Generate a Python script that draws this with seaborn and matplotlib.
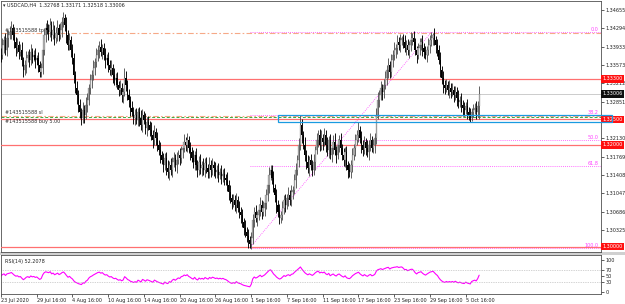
import numpy as np
import pandas as pd
import matplotlib
matplotlib.use("Agg")
import matplotlib.pyplot as plt
import matplotlib.transforms as mtrans
from matplotlib.patches import Rectangle
import seaborn as sns

# ---------------- data (prices in pips above 1.30000) ----------------
price_base = 1.30000
first_open_pips = 380
close_pips = [
    377, 396, 406, 387, 410, 416, 422, 430, 416, 402,
    391, 396, 383, 387, 367, 347, 357, 371, 377, 367,
    383, 373, 377, 367, 371, 357, 343, 351, 387, 416,
    430, 426, 422, 436, 416, 426, 410, 420, 430, 416,
    426, 442, 450, 436, 416, 396, 406, 387, 371, 337,
    312, 298, 278, 265, 253, 269, 259, 278, 288, 312,
    328, 337, 351, 363, 377, 387, 393, 383, 391, 377,
    367, 371, 357, 347, 351, 337, 328, 331, 318, 308,
    312, 298, 304, 331, 318, 298, 288, 272, 265, 253,
    259, 249, 265, 253, 239, 259, 249, 233, 245, 239,
    229, 219, 209, 225, 213, 200, 190, 180, 170, 160,
    174, 154, 146, 160, 150, 166, 174, 160, 170, 180,
    174, 190, 194, 206, 200, 209, 194, 186, 174, 166,
    180, 160, 150, 166, 154, 160, 150, 164, 154, 146,
    160, 150, 160, 154, 146, 150, 141, 146, 139, 143,
    135, 131, 121, 107, 95, 87, 91, 82, 91, 76,
    68, 62, 48, 36, 28, 21, 13, 5, 17, 52,
    68, 56, 62, 72, 82, 68, 76, 85, 101, 121,
    141, 150, 135, 115, 101, 82, 68, 56, 62, 76,
    91, 82, 95, 101, 91, 107, 111, 131, 150, 170,
    200, 239, 219, 200, 180, 166, 154, 170, 160, 150,
    166, 190, 209, 219, 200, 213, 206, 219, 200, 190,
    209, 180, 194, 206, 190, 180, 200, 209, 194, 180,
    170, 186, 160, 150, 146, 160, 180, 194, 209, 219,
    229, 213, 200, 190, 206, 194, 186, 200, 209, 194,
    200, 213, 259, 288, 298, 312, 304, 318, 331, 347,
    357, 343, 367, 377, 387, 391, 402, 396, 406, 410,
    402, 391, 396, 387, 396, 406, 410, 402, 387, 377,
    391, 396, 402, 391, 383, 377, 387, 396, 406, 410,
    416, 406, 396, 387, 367, 347, 331, 318, 312, 318,
    308, 312, 304, 308, 298, 304, 292, 284, 288, 278,
    272, 269, 276, 265, 259, 253, 265, 269, 272, 265,
    277, 301,
]
# wick lengths beyond the body, in units of wick_unit (price)
wick_unit = 0.00017
up_wick = [
    6, 9, 5, 8, 10, 6, 7, 8, 5, 9,
    6, 8, 5, 7, 9, 4, 6, 8, 5, 7,
    9, 5, 6, 8, 4, 7, 5, 6, 10, 8,
    6, 9, 7, 8, 5, 10, 6, 7, 9, 5,
    8, 6, 7, 5, 9, 6, 8, 5, 7, 6,
    5, 8, 6, 7, 5, 9, 6, 10, 8, 5,
    7, 6, 9, 5, 8, 6, 7, 9, 5, 6,
    8, 5, 7, 6, 9, 5, 8, 6, 7, 5,
    9, 6, 5, 12, 8, 6, 7, 5, 9, 6,
    7, 8, 5, 6, 9, 7, 5, 8, 6, 7,
    5, 9, 6, 8, 5, 7, 6, 9, 5, 8,
    6, 7, 9, 5, 8, 6, 7, 5, 9, 6,
    8, 5, 7, 9, 6, 8, 5, 7, 6, 9,
    5, 8, 6, 7, 9, 5, 8, 6, 7, 5,
    9, 6, 8, 5, 7, 6, 9, 5, 8, 6,
    7, 5, 9, 6, 8, 5, 7, 6, 9, 5,
    8, 6, 7, 5, 9, 6, 8, 5, 7, 7,
    6, 8, 5, 7, 9, 6, 8, 5, 7, 6,
    9, 6, 6, 8, 5, 7, 6, 9, 5, 8,
    6, 7, 5, 9, 6, 8, 5, 7, 9, 6,
    8, 12, 7, 5, 9, 6, 8, 5, 7, 6,
    9, 5, 8, 6, 7, 10, 5, 8, 6, 9,
    5, 7, 6, 8, 10, 5, 7, 6, 9, 5,
    8, 6, 7, 5, 9, 6, 8, 5, 7, 6,
    9, 5, 8, 6, 7, 5, 9, 6, 8, 5,
    7, 6, 8, 9, 6, 8, 5, 7, 9, 6,
    8, 5, 7, 6, 9, 5, 8, 6, 7, 3,
    5, 8, 6, 7, 5, 9, 6, 8, 5, 4,
    6, 9, 5, 8, 6, 7, 5, 9, 6, 7,
    3, 8, 5, 7, 6, 9, 5, 8, 6, 7,
    5, 9, 6, 8, 5, 7, 6, 9, 5, 8,
    6, 7, 5, 9, 6, 8, 5, 7, 6, 9,
    5, 9,
]
down_wick = [
    8, 5, 9, 6, 7, 10, 5, 8, 6, 7,
    9, 6, 8, 5, 7, 8, 6, 9, 5, 8,
    6, 7, 5, 9, 6, 8, 6, 5, 7, 6,
    8, 5, 9, 6, 7, 5, 8, 6, 9, 7,
    5, 8, 6, 7, 9, 5, 6, 8, 7, 9,
    6, 10, 8, 7, 8, 6, 9, 5, 8, 6,
    7, 9, 5, 8, 6, 7, 9, 5, 8, 6,
    9, 6, 8, 5, 7, 9, 6, 8, 5, 7,
    6, 8, 9, 5, 7, 6, 8, 9, 5, 7,
    8, 5, 7, 9, 6, 8, 5, 7, 9, 6,
    7, 6, 9, 5, 8, 7, 6, 9, 5, 8,
    6, 8, 7, 9, 5, 8, 6, 7, 9, 5,
    8, 6, 9, 5, 7, 8, 6, 9, 5, 7,
    9, 5, 8, 6, 7, 9, 5, 8, 6, 7,
    6, 8, 5, 9, 7, 6, 8, 5, 9, 7,
    8, 6, 7, 9, 5, 8, 6, 7, 9, 5,
    7, 9, 6, 8, 5, 7, 9, 5, 6, 7,
    8, 5, 9, 6, 7, 8, 5, 9, 6, 7,
    9, 6, 7, 5, 8, 9, 6, 7, 6, 6,
    7, 8, 5, 9, 6, 7, 8, 5, 9, 6,
    8, 6, 9, 5, 7, 8, 6, 9, 5, 7,
    6, 9, 5, 8, 7, 6, 9, 5, 8, 7,
    9, 5, 8, 7, 6, 9, 5, 8, 7, 6,
    7, 8, 6, 9, 5, 7, 8, 6, 9, 5,
    8, 6, 9, 7, 5, 8, 6, 9, 7, 5,
    6, 9, 7, 5, 8, 6, 9, 7, 5, 8,
    9, 7, 5, 8, 6, 9, 7, 5, 8, 6,
    7, 5, 8, 6, 9, 7, 5, 8, 6, 9,
    5, 8, 6, 9, 7, 5, 8, 6, 9, 7,
    8, 6, 9, 7, 5, 8, 6, 9, 7, 5,
    6, 9, 7, 5, 8, 6, 9, 7, 5, 8,
    9, 7, 5, 8, 6, 5, 4, 6, 5, 8,
    6, 15,
]

title_text = "USDCAD,H4  1.32768 1.33171 1.32518 1.33006"
rsi_label = "RSI(14) 52.2078"
date_labels = ["23 Jul 2020", "29 Jul 16:00", "4 Aug 16:00", "10 Aug 16:00",
               "14 Aug 16:00", "20 Aug 16:00", "26 Aug 16:00", "1 Sep 16:00",
               "7 Sep 16:00", "11 Sep 16:00", "17 Sep 16:00", "23 Sep 16:00",
               "29 Sep 16:00", "5 Oct 16:00"]
date_label_bars = [0, 24, 48, 72, 96, 120, 144, 168, 192, 216, 240, 264, 288, 312]
price_ticks = [1.34655, 1.34294, 1.33933, 1.33573, 1.33212, 1.32851,
               1.32130, 1.31769, 1.31408, 1.31047, 1.30686, 1.30325]
red_levels = [1.33300, 1.32500, 1.32000, 1.30000]
bid_price = 1.33006
tp_price = 1.34200
sl_price = 1.32570
buy_price = 1.32540
order_tp_text = "#143515588 tp"
order_sl_text = "#143515588 sl"
order_buy_text = "#143515588 buy 5.00"
zone_low, zone_high = 1.32450, 1.32590
zone_start_bar = 186
fib_low_bar, fib_low_price = 167, 1.29970
fib_high_bar, fib_high_price = 289, 1.34220
fib_levels = [0.0, 38.2, 50.0, 61.8, 100.0]
rsi_ticks = [100, 70, 50, 30, 0]
rsi_levels = [70, 30]
rsi_period = 14
rsi_seed_move = 0.0008   # assumed average up/down move before the first bar

# ---------------- figure ----------------
sns.set_theme(style="white")
plt.rcParams["font.family"] = ["DejaVu Sans"]
FS = 3.5
W, H = 625, 304
fig = plt.figure(figsize=(W / 100, H / 100), dpi=100)
fig.patch.set_facecolor("white")


def fx(px):
    return px / W


def fy(py):
    return 1 - py / H


ax = fig.add_axes([fx(1), fy(252), 600 / W, 251 / H])
rax = fig.add_axes([fx(1), fy(294), 600 / W, 39 / H])
for a in (ax, rax):
    a.set_facecolor("white")
    for s in a.spines.values():
        s.set_color("#505050")
        s.set_linewidth(0.6)

fig.add_artist(Rectangle((0, fy(255)), 1, 3 / H, transform=fig.transFigure,
                         facecolor="#d0d0d0", edgecolor="none", zorder=0))

closes = price_base + np.array(close_pips) / 1e4
opens = np.concatenate([[price_base + first_open_pips / 1e4], closes[:-1]])
highs = np.maximum(opens, closes) + np.array(up_wick) * wick_unit
lows = np.minimum(opens, closes) - np.array(down_wick) * wick_unit
df = pd.DataFrame(dict(bar=np.arange(len(closes)), open=opens, high=highs,
                       low=lows, close=closes))
bull = df["close"] >= df["open"]
bear = ~bull

ax.vlines(df["bar"][bull], df["low"][bull], df["high"][bull], color="#555555", lw=0.65, zorder=3)
ax.vlines(df["bar"][bear], df["low"][bear], df["high"][bear], color="#000000", lw=0.65, zorder=3)
body = (df["close"] - df["open"]).abs().clip(lower=0.00005)
ax.bar(df["bar"][bull], body[bull], bottom=df["open"][bull], width=0.8,
       color="#b0b0b0", edgecolor="#555555", linewidth=0.15, zorder=3)
ax.bar(df["bar"][bear], body[bear], bottom=df["close"][bear], width=0.8,
       color="#000000", linewidth=0, zorder=3)

xmin, xmax = 0.13, 402.8
ax.set_xlim(xmin, xmax)
ax.set_ylim(1.29892, 1.34832)

red_c = "#ff7070"
for lv in red_levels:
    ax.axhline(lv, color=red_c, lw=0.9, zorder=2.6)
ax.axhline(bid_price, color="#c4c4c4", lw=0.6, zorder=1)
ax.axhline(tp_price, color="#f6a987", lw=0.8, ls=(0, (5, 2, 1.5, 2)), zorder=2)
ax.axhline(sl_price, color="#f6a987", lw=0.8, ls=(0, (5, 2, 1.5, 2)), zorder=2)
ax.axhline(buy_price, color="#3caa3c", lw=0.7, ls=(0, (3, 2)), zorder=2)

blend = mtrans.blended_transform_factory(ax.transAxes, ax.transData)

fib_prices = [fib_high_price - (fib_high_price - fib_low_price) * f / 100 for f in fib_levels]
ax.hlines(fib_prices, fib_low_bar, xmax, color="#ff40ff", lw=0.6, ls=(0, (1, 1.5)), zorder=2)
ax.plot([fib_low_bar, fib_high_bar], [fib_low_price, fib_high_price], color="#ff40ff",
        lw=0.6, ls=(0, (1, 1.5)), zorder=2)
for f, p in zip(fib_levels, fib_prices):
    ax.text((598 - 1) / 600, p, f"{f:.1f}", transform=blend,
            ha="right", va="bottom", fontsize=FS, color="#ff40ff", zorder=4)

ax.add_patch(Rectangle((zone_start_bar, zone_low), 410.2 - zone_start_bar, zone_high - zone_low,
                       fill=False, edgecolor="#1a9ae0", lw=0.9, clip_on=False, zorder=8))

ax.text(4 / 600, tp_price, order_tp_text, transform=blend, fontsize=FS, color="#303030",
        va="bottom", zorder=5)
ax.text(4 / 600, sl_price + 0.0002, order_sl_text, transform=blend, fontsize=FS, color="#303030",
        va="bottom", zorder=5)
ax.text(4 / 600, buy_price - 0.0004, order_buy_text, transform=blend, fontsize=FS, color="#303030",
        va="top", zorder=5)

ax.text(2 / 600, (252 - 5) / 251, "\u25BE " + title_text, transform=ax.transAxes,
        fontsize=FS, color="#202020", va="center", ha="left", zorder=5)

ax.yaxis.tick_right()
ax.set_yticks(price_ticks)
ax.set_yticklabels([f"{p:.5f}" for p in price_ticks])
ax.tick_params(axis="y", length=2, width=0.5, pad=1.5, labelsize=FS, colors="#202020",
               right=True, left=False)
ax.set_xticks([])
ax.grid(False)

for lv in red_levels:
    ax.text(1.0025, lv, f"{lv:.5f}", transform=blend, fontsize=FS, color="white", va="center",
            ha="left", bbox=dict(boxstyle="square,pad=0.3", fc="#ff1010", ec="none"),
            zorder=7, clip_on=False)
ax.text(1.0025, bid_price, f"{bid_price:.5f}", transform=blend, fontsize=FS, color="white",
        va="center", ha="left", bbox=dict(boxstyle="square,pad=0.3", fc="#101010", ec="none"),
        zorder=7, clip_on=False)

# ---------------- RSI (Wilder) ----------------
delta = df["close"].diff().fillna(0.0).to_numpy()
ag, al = rsi_seed_move, rsi_seed_move
rsi_vals = []
for d in delta:
    ag = (ag * (rsi_period - 1) + max(d, 0.0)) / rsi_period
    al = (al * (rsi_period - 1) + max(-d, 0.0)) / rsi_period
    rsi_vals.append(100 - 100 / (1 + ag / al))
rsi_df = pd.DataFrame(dict(bar=df["bar"], rsi=rsi_vals))
sns.lineplot(data=rsi_df, x="bar", y="rsi", ax=rax, color="#ff00ff", lw=0.8)
for lv in rsi_levels:
    rax.axhline(lv, color="#a8a8a8", lw=0.5, ls=(0, (1, 1.5)))
rax.set_xlim(xmin, xmax)
rax.set_ylim(-6.25, 115.6)
rax.yaxis.tick_right()
rax.set_yticks(rsi_ticks)
rax.set_yticklabels([str(t) for t in rsi_ticks])
rax.tick_params(axis="y", length=2, width=0.5, pad=1.5, labelsize=FS, colors="#202020",
                right=True, left=False)
rax.set_xticks(date_label_bars)
rax.set_xticklabels(date_labels)
rax.tick_params(axis="x", length=2, width=0.5, pad=1, labelsize=FS, colors="#202020", bottom=True)
for t in rax.get_xticklabels():
    t.set_ha("left")
rax.set_xlabel("")
rax.set_ylabel("")
rax.grid(False)
rax.text(4 / 600, (294 - 261) / 39, rsi_label, transform=rax.transAxes, fontsize=FS,
         color="#202020", va="center", ha="left")

fig.savefig("out.png", dpi=100, facecolor="white")
